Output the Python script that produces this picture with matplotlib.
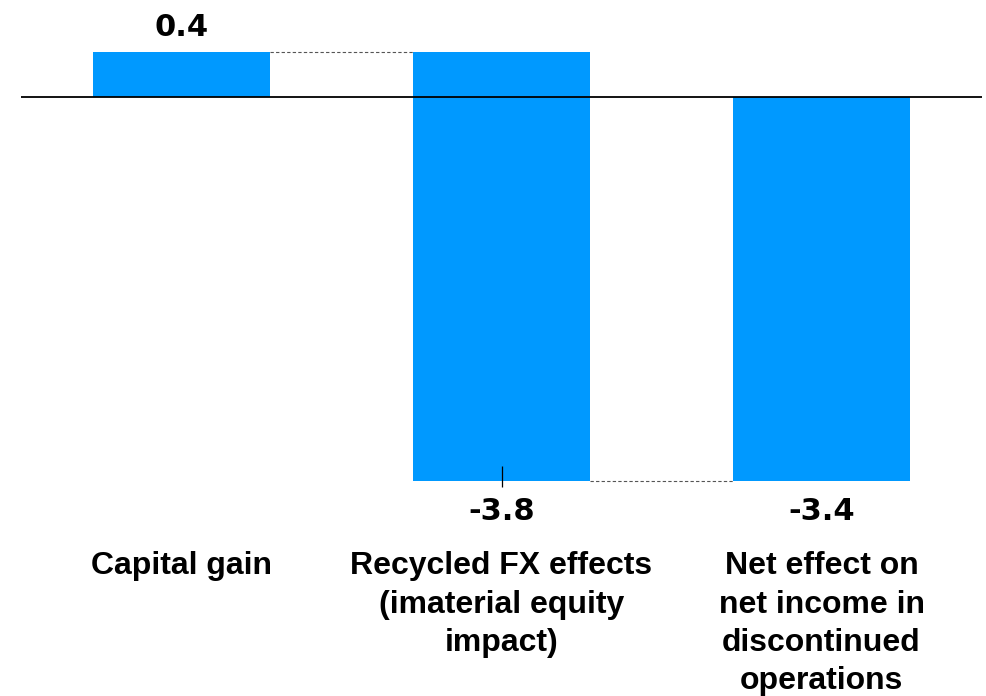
import matplotlib
matplotlib.use("Agg")
import matplotlib.pyplot as plt

categories = ["Capital gain",
              "Recycled FX effects\n(imaterial equity\nimpact)",
              "Net effect on\nnet income in\ndiscontinued\noperations"]
changes = [0.4, -3.8]
total = -3.4
value_labels = ["0.4", "-3.8", "-3.4"]

BLUE = "#0099FF"

fig = plt.figure(figsize=(9.87, 6.96), dpi=100)
ax = fig.add_axes([0, 0, 1, 1])

# waterfall: running bottoms for the change bars, then the total from zero
bottoms = []
running = 0.0
for c in changes:
    bottoms.append(running)
    running += c
heights = changes + [total]
bottoms = bottoms + [0.0]
xs = list(range(len(categories)))
width = 0.553

ax.bar(xs, heights, bottom=bottoms, width=width, color=BLUE, edgecolor="none", zorder=2)

# baseline
ax.hlines(0, -0.5, 2.5, color="black", lw=1.3, zorder=3)

# dashed connectors between bars
for i in range(len(xs) - 1):
    level = bottoms[i] + heights[i]
    ax.hlines(level, xs[i] + width / 2, xs[i + 1] - width / 2,
              colors="#555555", linestyles=(0, (3, 2)), lw=0.8, zorder=1)

# small tick at the bottom of the middle bar
end_mid = bottoms[1] + heights[1]
ax.vlines(xs[1], end_mid - 0.05, end_mid + 0.135, color="black", lw=0.9, zorder=3)

# value labels
for i, lab in enumerate(value_labels):
    top = bottoms[i] + heights[i]
    if heights[i] >= 0:
        ax.text(xs[i], top + 0.215, lab, ha="center", va="center",
                fontsize=22, fontweight="bold", family="DejaVu Sans")
    else:
        ax.text(xs[i], top - 0.265, lab, ha="center", va="center",
                fontsize=22, fontweight="bold", family="DejaVu Sans")

# category labels
for i, cat in enumerate(categories):
    ax.text(xs[i], -4.02, cat, ha="center", va="top", fontsize=23,
            fontweight="bold", linespacing=1.36, family="Liberation Sans")

ax.set_xlim(-0.567, 2.517)
ax.set_ylim(-5.30, 0.858)
ax.axis("off")

fig.savefig("out.png", dpi=100)
